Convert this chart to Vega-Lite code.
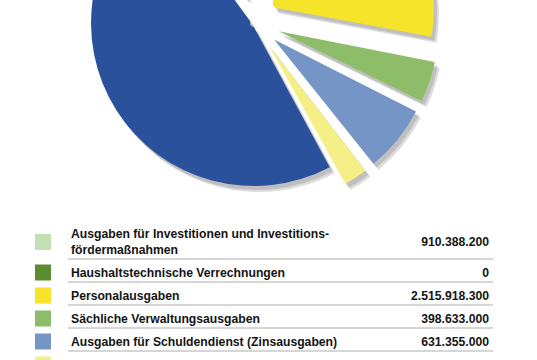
{
  "$schema": "https://vega.github.io/schema/vega-lite/v6.json",
  "padding": {"left": 35, "top": -162, "right": 0, "bottom": 0},
  "background": "white",
  "bounds": "flush",
  "config": {
    "view": {"stroke": null},
    "locale": {"number": {"decimal": ",", "thousands": ".", "grouping": [3], "currency": ["", " €"]}},
    "text": {"font": "Liberation Sans"}
  },
  "datasets": {
    "ausgaben": [
      {"nr": 1, "name": "Ausgaben für Investitionen und Investitions-\nfördermaßnahmen", "value": 910388200},
      {"nr": 2, "name": "Haushaltstechnische Verrechnungen", "value": 0},
      {"nr": 3, "name": "Personalausgaben", "value": 2515918300},
      {"nr": 4, "name": "Sächliche Verwaltungsausgaben", "value": 398633000},
      {"nr": 5, "name": "Ausgaben für Schuldendienst (Zinsausgaben)", "value": 631355000},
      {"nr": 6, "name": "Baumaßnahmen", "value": 246468000},
      {"nr": 7, "name": "Zuweisungen und Zuschüsse (ohne Investitionen)", "value": 4301987500}
    ]
  },
  "spacing": 37,
  "vconcat": [
    {
      "width": 438,
      "height": 326,
      "data": {"name": "ausgaben"},
      "layer": [
        {
          "mark": {"type": "arc", "outerRadius": 163, "innerRadius": 4, "padAngle": 0.025,
            "xOffset": {"expr": "(datum.nr == 7 ? 0 : 22*sin(-0.6353 + PI*(datum.value_start + datum.value_end))) + 5"},
            "yOffset": {"expr": "(datum.nr == 7 ? 0 : -22*cos(-0.6353 + PI*(datum.value_start + datum.value_end))) + 6"},
            "fill": "#8a8a8a", "opacity": 0.3},
          "encoding": {
            "theta": {"field": "value", "type": "quantitative", "stack": "normalize", "scale": {"range": [-0.6353, 5.6479]}},
            "order": {"field": "nr", "type": "quantitative"}
          }
        },
        {
          "mark": {"type": "arc", "outerRadius": 163, "innerRadius": 4, "padAngle": 0.025,
            "xOffset": {"expr": "(datum.nr == 7 ? 0 : 22*sin(-0.6353 + PI*(datum.value_start + datum.value_end))) + 3"},
            "yOffset": {"expr": "(datum.nr == 7 ? 0 : -22*cos(-0.6353 + PI*(datum.value_start + datum.value_end))) + 4"},
            "fill": "#8a8a8a", "opacity": 0.35},
          "encoding": {
            "theta": {"field": "value", "type": "quantitative", "stack": "normalize", "scale": {"range": [-0.6353, 5.6479]}},
            "order": {"field": "nr", "type": "quantitative"}
          }
        },
        {
          "mark": {"type": "arc", "outerRadius": 163, "innerRadius": 4, "padAngle": 0.025,
            "xOffset": {"expr": "datum.nr == 7 ? 0 : 22*sin(-0.6353 + PI*(datum.value_start + datum.value_end))"},
            "yOffset": {"expr": "datum.nr == 7 ? 0 : -22*cos(-0.6353 + PI*(datum.value_start + datum.value_end))"}},
          "encoding": {
            "theta": {"field": "value", "type": "quantitative", "stack": "normalize", "scale": {"range": [-0.6353, 5.6479]}},
            "order": {"field": "nr", "type": "quantitative"},
            "color": {
              "field": "name", "type": "nominal", "legend": null,
              "scale": {
                "domain": ["Ausgaben für Investitionen und Investitions-\nfördermaßnahmen", "Haushaltstechnische Verrechnungen", "Personalausgaben", "Sächliche Verwaltungsausgaben", "Ausgaben für Schuldendienst (Zinsausgaben)", "Baumaßnahmen", "Zuweisungen und Zuschüsse (ohne Investitionen)"],
                "range": ["#c4dfb2", "#5d8b2f", "#f6e42b", "#8dbd68", "#7595c6", "#f5ef88", "#2a519c"]
              }
            }
          }
        }
      ]
    },
    {
      "spacing": 0,
      "vconcat": [
        {
          "data": {"name": "ausgaben"},
          "transform": [{"filter": "datum.nr == 1"}],
          "spacing": 16,
          "hconcat": [
            {
              "width": 16, "height": 38,
              "mark": {"type": "square", "size": 256, "opacity": 1, "filled": true},
              "encoding": {
                "y": {"field": "name", "type": "nominal", "axis": null, "bandPosition": 0.5, "scale": {"type": "band", "paddingInner": 0, "paddingOuter": 0}},
                "color": {
                  "field": "name", "type": "nominal", "legend": null,
                  "scale": {
                    "domain": ["Ausgaben für Investitionen und Investitions-\nfördermaßnahmen", "Haushaltstechnische Verrechnungen", "Personalausgaben", "Sächliche Verwaltungsausgaben", "Ausgaben für Schuldendienst (Zinsausgaben)", "Baumaßnahmen", "Zuweisungen und Zuschüsse (ohne Investitionen)"],
                    "range": ["#c4dfb2", "#5d8b2f", "#f6e42b", "#8dbd68", "#7595c6", "#f5ef88", "#2a519c"]
                  }
                }
              }
            },
            {
              "width": 425, "height": 38,
              "layer": [
                {
                  "mark": {"type": "rule", "stroke": "#c8c8c8", "strokeWidth": 1.5, "yOffset": -2},
                  "encoding": {
                    "y": {"field": "name", "type": "nominal", "axis": null, "bandPosition": 1, "scale": {"type": "band", "paddingInner": 0, "paddingOuter": 0}}
                  }
                },
                {
                  "mark": {"type": "text", "align": "left", "baseline": "middle", "dx": 3, "dy": -8, "fontSize": 12.2, "fontWeight": "bold", "lineHeight": 16, "lineBreak": "\n", "color": "#141414"},
                  "encoding": {
                    "x": {"datum": 0, "type": "quantitative", "scale": {"domain": [0, 1]}, "axis": null},
                    "y": {"field": "name", "type": "nominal", "axis": null, "bandPosition": 0.5, "scale": {"type": "band", "paddingInner": 0, "paddingOuter": 0}},
                    "text": {"field": "name"}
                  }
                },
                {
                  "mark": {"type": "text", "align": "right", "baseline": "middle", "dx": -4, "fontSize": 12.2, "fontWeight": "bold", "color": "#141414"},
                  "encoding": {
                    "x": {"datum": 1, "type": "quantitative", "scale": {"domain": [0, 1]}, "axis": null},
                    "y": {"field": "name", "type": "nominal", "axis": null, "bandPosition": 0.5, "scale": {"type": "band", "paddingInner": 0, "paddingOuter": 0}},
                    "text": {"field": "value", "type": "quantitative", "format": ",.0f"}
                  }
                }
              ]
            }
          ]
        },
        {
          "data": {"name": "ausgaben"},
          "transform": [{"filter": "datum.nr >= 2"}],
          "spacing": 16,
          "hconcat": [
            {
              "width": 16, "height": 138,
              "mark": {"type": "square", "size": 256, "opacity": 1, "filled": true},
              "encoding": {
                "y": {"field": "name", "type": "nominal", "axis": null, "bandPosition": 0.5, "sort": {"field": "nr", "op": "min"}, "scale": {"type": "band", "paddingInner": 0, "paddingOuter": 0}},
                "color": {
                  "field": "name", "type": "nominal", "legend": null,
                  "scale": {
                    "domain": ["Ausgaben für Investitionen und Investitions-\nfördermaßnahmen", "Haushaltstechnische Verrechnungen", "Personalausgaben", "Sächliche Verwaltungsausgaben", "Ausgaben für Schuldendienst (Zinsausgaben)", "Baumaßnahmen", "Zuweisungen und Zuschüsse (ohne Investitionen)"],
                    "range": ["#c4dfb2", "#5d8b2f", "#f6e42b", "#8dbd68", "#7595c6", "#f5ef88", "#2a519c"]
                  }
                }
              }
            },
            {
              "width": 425, "height": 138,
              "layer": [
                {
                  "mark": {"type": "rule", "stroke": "#c8c8c8", "strokeWidth": 1.5, "yOffset": -2},
                  "encoding": {
                    "y": {"field": "name", "type": "nominal", "axis": null, "bandPosition": 1, "sort": {"field": "nr", "op": "min"}, "scale": {"type": "band", "paddingInner": 0, "paddingOuter": 0}}
                  }
                },
                {
                  "mark": {"type": "text", "align": "left", "baseline": "middle", "dx": 3, "fontSize": 12.2, "fontWeight": "bold", "color": "#141414"},
                  "encoding": {
                    "x": {"datum": 0, "type": "quantitative", "scale": {"domain": [0, 1]}, "axis": null},
                    "y": {"field": "name", "type": "nominal", "axis": null, "bandPosition": 0.5, "sort": {"field": "nr", "op": "min"}, "scale": {"type": "band", "paddingInner": 0, "paddingOuter": 0}},
                    "text": {"field": "name"}
                  }
                },
                {
                  "mark": {"type": "text", "align": "right", "baseline": "middle", "dx": -4, "fontSize": 12.2, "fontWeight": "bold", "color": "#141414"},
                  "encoding": {
                    "x": {"datum": 1, "type": "quantitative", "scale": {"domain": [0, 1]}, "axis": null},
                    "y": {"field": "name", "type": "nominal", "axis": null, "bandPosition": 0.5, "sort": {"field": "nr", "op": "min"}, "scale": {"type": "band", "paddingInner": 0, "paddingOuter": 0}},
                    "text": {"field": "value", "type": "quantitative", "format": ",.0f"}
                  }
                }
              ]
            }
          ]
        }
      ]
    }
  ]
}
